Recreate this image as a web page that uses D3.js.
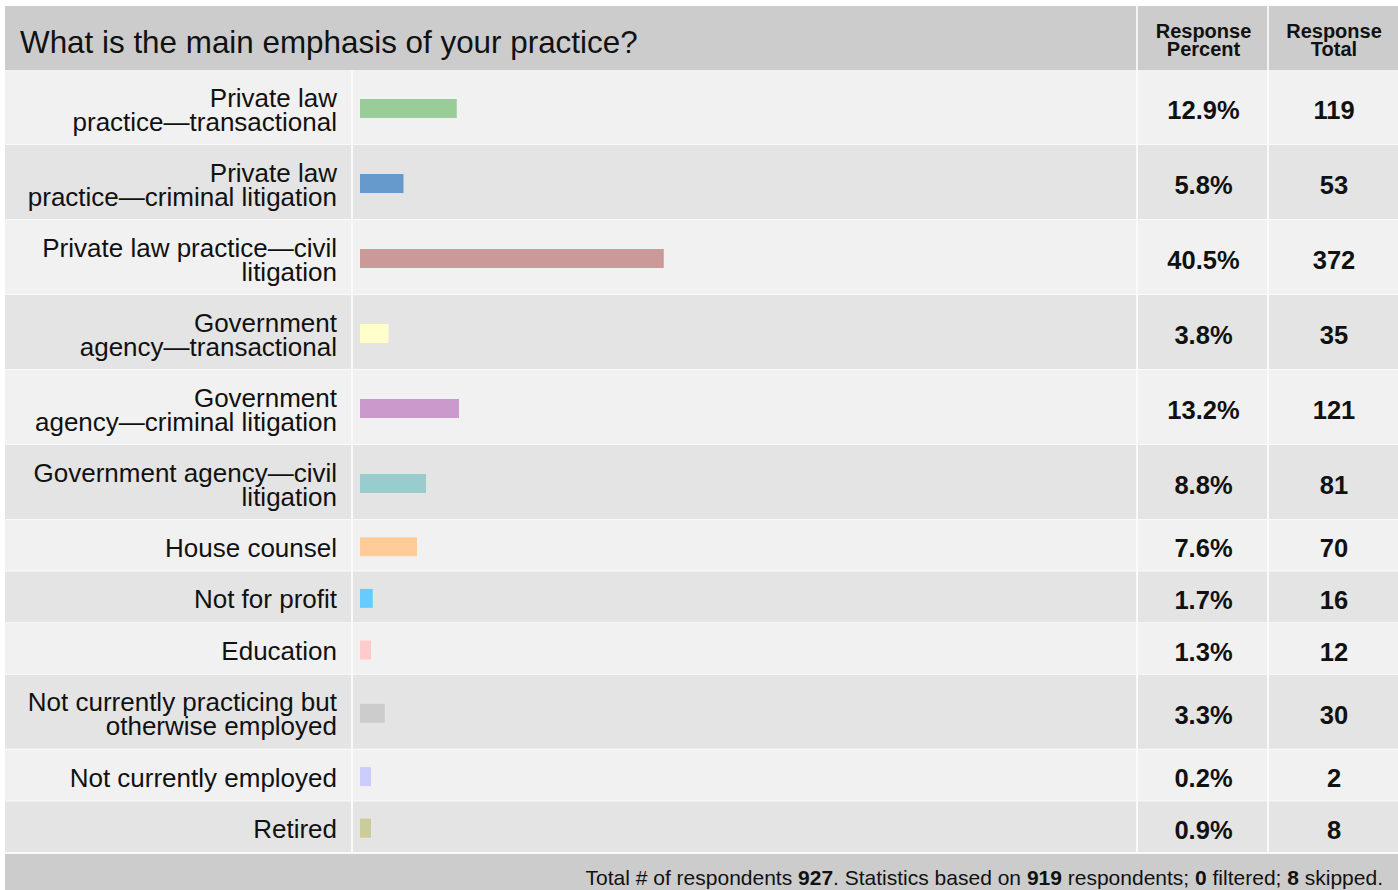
<!DOCTYPE html>
<html><head><meta charset="utf-8">
<script src="https://cdn.jsdelivr.net/npm/d3@7"></script>
<style>
html,body{margin:0;padding:0;background:#fff;}
text{font-family:"Liberation Sans",Arial,Helvetica,sans-serif;}
</style></head>
<body><svg id="c" width="1398" height="890"></svg>
<script>
const title = "What is the main emphasis of your practice?";
const categories = [
  ["Private law", "practice—transactional"],
  ["Private law", "practice—criminal litigation"],
  ["Private law practice—civil", "litigation"],
  ["Government", "agency—transactional"],
  ["Government", "agency—criminal litigation"],
  ["Government agency—civil", "litigation"],
  ["House counsel"],
  ["Not for profit"],
  ["Education"],
  ["Not currently practicing but", "otherwise employed"],
  ["Not currently employed"],
  ["Retired"]
];
const percents = [12.9, 5.8, 40.5, 3.8, 13.2, 8.8, 7.6, 1.7, 1.3, 3.3, 0.2, 0.9];
const totals = [119, 53, 372, 35, 121, 81, 70, 16, 12, 30, 2, 8];
const colors = ["#99cc99","#6699cc","#cc9999","#ffffcc","#cc99cc","#99cccc","#ffcc99","#66ccff","#ffcccc","#cccccc","#ccccff","#cccc99"];
const headers = [["Response","Percent"],["Response","Total"]];
const footerParts = [["Total # of respondents ",false],["927",true],[". Statistics based on ",false],["919",true],[" respondents; ",false],["0",true],[" filtered; ",false],["8",true],[" skipped.",false]];

const svg = d3.select("#c");
const L = 5, R = 1398, T = 6, headH = 64;
const colLabelEnd = 352, colBarEnd = 1137, colPctEnd = 1268;
const twoH = 75, oneH = 51.6;

// row geometry
const rowH = categories.map(c => c.length > 1 ? twoH : oneH);
const rowY = []; let acc = T + headH;
rowH.forEach(h => { rowY.push(acc); acc += h; });
const tableBottom = acc;

const x = d3.scaleLinear().domain([0, 100]).range([360, 1110]);

// header
svg.append("rect").attr("x", L).attr("y", T).attr("width", R - L).attr("height", headH).attr("fill", "#cccccc");
svg.append("text").attr("x", 20).attr("y", T + 47).attr("font-size", 31.4).attr("fill", "#111").text(title);
[[colBarEnd, colPctEnd], [colPctEnd, R]].forEach((c, i) => {
  svg.append("line").attr("x1", c[0]).attr("x2", c[0]).attr("y1", T).attr("y2", T + headH).attr("stroke", "#f4f4f4").attr("stroke-width", 2);
  const cx = (c[0] + c[1]) / 2 + 1;
  const t = svg.append("text").attr("x", cx).attr("y", T + 32).attr("text-anchor", "middle")
    .attr("font-size", 20).attr("font-weight", "bold").attr("fill", "#111");
  headers[i].forEach((s, j) => t.append("tspan").attr("x", cx).attr("dy", j ? 18 : 0).text(s));
});

// rows
const rows = svg.selectAll("g.row").data(categories).join("g").attr("class", "row");
rows.append("rect").attr("x", L).attr("y", (d, i) => rowY[i]).attr("width", R - L).attr("height", (d, i) => rowH[i])
  .attr("fill", (d, i) => i % 2 ? "#e4e4e4" : "#f1f1f1");
rows.append("line").attr("x1", L).attr("x2", R).attr("y1", (d, i) => rowY[i] + rowH[i]).attr("y2", (d, i) => rowY[i] + rowH[i])
  .attr("stroke", "#fafafa").attr("stroke-width", 2);
[colLabelEnd, colBarEnd, colPctEnd].forEach(cx => {
  svg.append("line").attr("x1", cx).attr("x2", cx).attr("y1", T + headH).attr("y2", tableBottom).attr("stroke", "#fafafa").attr("stroke-width", 2);
});

// labels
rows.append("text").attr("text-anchor", "end").attr("font-size", 26).attr("fill", "#111")
  .each(function (d, i) {
    const cy = rowY[i] + rowH[i] / 2;
    const t = d3.select(this);
    const lh = 24;
    const y0 = cy + 11 - (d.length - 1) * lh / 2;
    d.forEach((s, j) => t.append("tspan").attr("x", 337).attr("y", y0 + j * lh).text(s));
  });

// bars
const barH = 19;
rows.append("rect").attr("x", x(0))
  .attr("y", (d, i) => rowY[i] + rowH[i] / 2 - barH / 2 + 1)
  .attr("width", (d, i) => Math.max(11, x(percents[i]) - x(0)))
  .attr("height", barH)
  .attr("fill", (d, i) => colors[i]);

// values
rows.append("text").attr("x", (colBarEnd + colPctEnd) / 2 + 1).attr("y", (d, i) => rowY[i] + rowH[i] / 2 + 11.5)
  .attr("text-anchor", "middle").attr("font-size", 25.5).attr("font-weight", "bold").attr("fill", "#111")
  .text((d, i) => percents[i].toFixed(1) + "%");
rows.append("text").attr("x", (colPctEnd + R) / 2 + 1).attr("y", (d, i) => rowY[i] + rowH[i] / 2 + 11.5)
  .attr("text-anchor", "middle").attr("font-size", 25.5).attr("font-weight", "bold").attr("fill", "#111")
  .text((d, i) => totals[i]);

// footer
svg.append("rect").attr("x", L).attr("y", tableBottom + 1).attr("width", R - L).attr("height", 890 - tableBottom).attr("fill", "#cccccc");
const ft = svg.append("text").attr("x", 1383).attr("y", 885).attr("text-anchor", "end").attr("font-size", 21).attr("fill", "#111");
footerParts.forEach(p => ft.append("tspan").attr("font-weight", p[1] ? "bold" : "normal").text(p[0]));
</script></body></html>
